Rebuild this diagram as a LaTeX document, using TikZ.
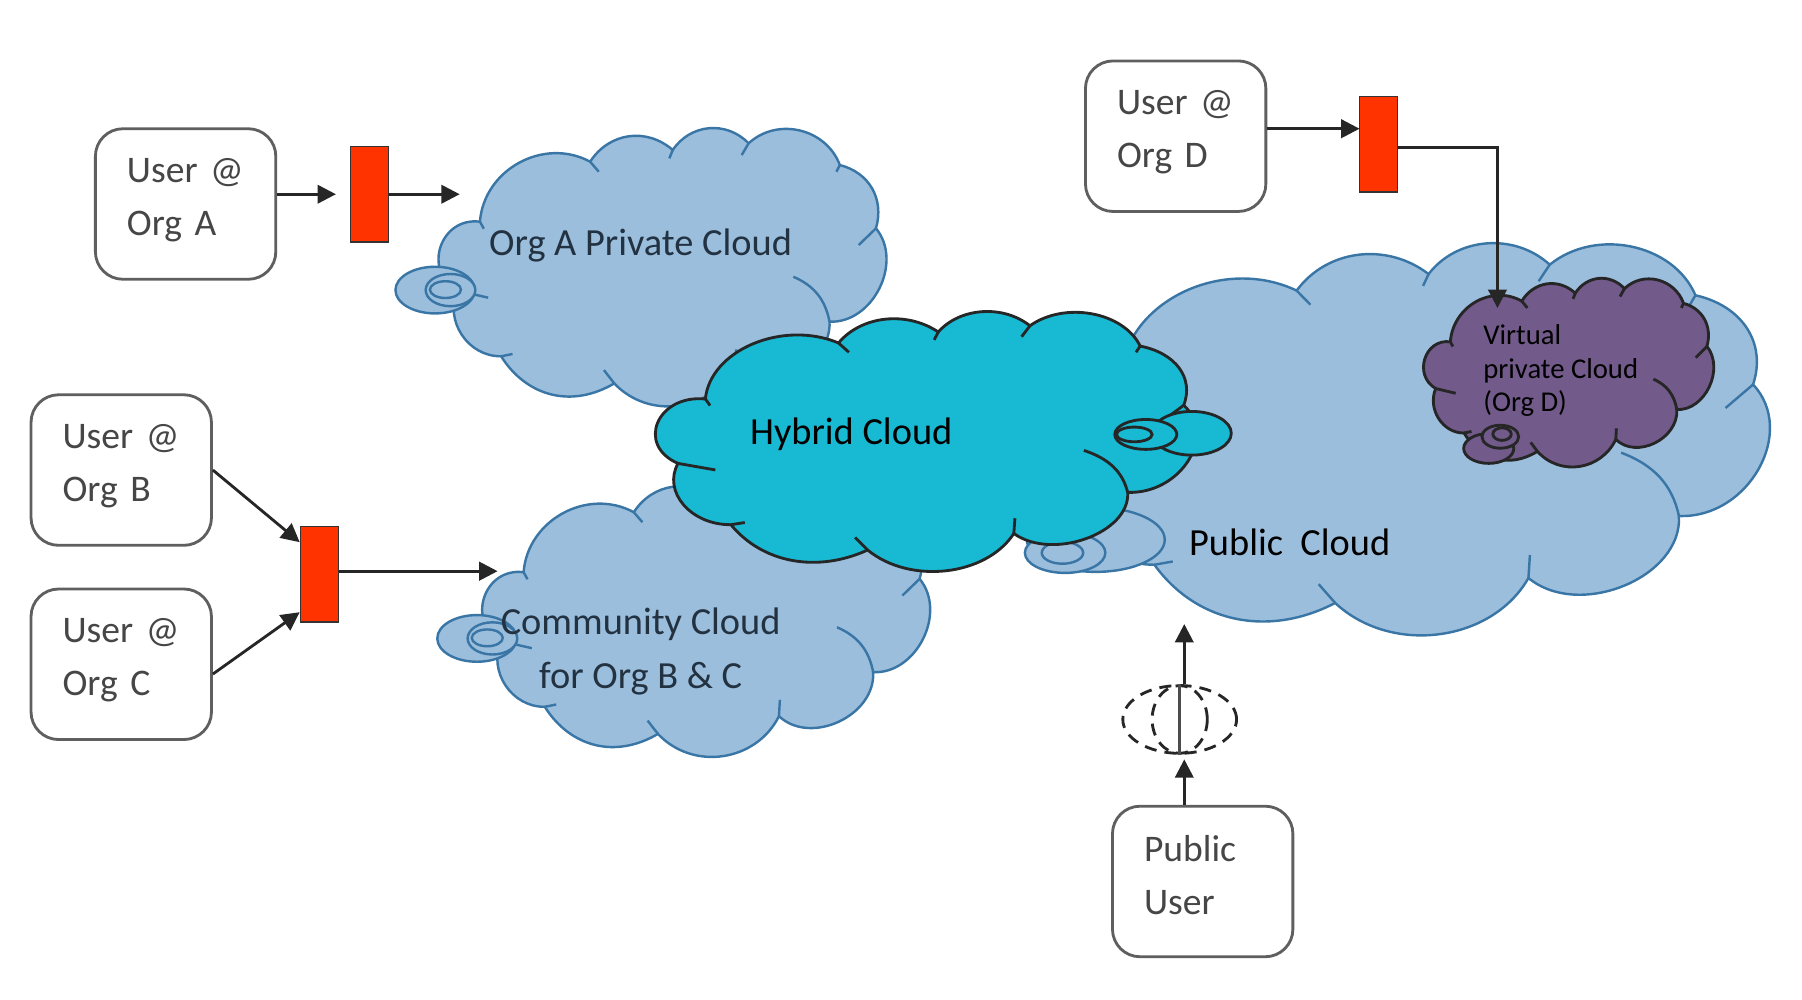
\documentclass[tikz,border=0pt]{standalone}
\usepackage{fontspec}
\setmainfont{Carlito}
\usepackage{tikz}
\usetikzlibrary{shapes.geometric,arrows.meta,positioning,calc}
\definecolor{cloudblue}{RGB}{155,190,221}
\definecolor{cloudline}{RGB}{58,118,165}
\definecolor{hybridcyan}{RGB}{24,185,211}
\definecolor{virtualpurple}{RGB}{114,90,138}
\definecolor{firewallred}{RGB}{255,51,0}
\definecolor{boxline}{RGB}{95,95,95}
\definecolor{boxtext}{RGB}{70,70,70}
\definecolor{cloudtext}{RGB}{35,50,65}
\newcommand{\twolines}[2]{#1\\#2\rule[-1.2mm]{0pt}{1mm}}
\tikzset{
    userbox/.style={rectangle, rounded corners=2.4mm, draw=boxline, line width=0.7pt, fill=white, minimum width=15.7mm, minimum height=13.1mm, inner xsep=0pt, text width=10.2mm, align=left, text=boxtext, font=\fontsize{9.3}{13.1}\selectfont},
    redbar/.style={rectangle, draw=black!80, fill=firewallred, minimum width=3.3mm, minimum height=8.3mm, inner sep=0pt},
    flow/.style={draw=black!85, line width=0.7pt, -{Triangle[length=1.6mm,width=1.6mm]}},
    blueC/.style={draw=cloudline, fill=cloudblue, line width=0.6pt},
    hybridC/.style={draw=black!85, fill=hybridcyan, line width=0.7pt},
    virtualC/.style={draw=black!85, fill=virtualpurple, line width=0.7pt},
    cloudlabel/.style={inner sep=0pt, text=cloudtext, font=\fontsize{9.5}{13.1}\selectfont},
    globeline/.style={draw=black!85, line width=0.7pt, densely dashed},
    cloudbody/.pic={
        \draw[pic actions] (417.6,192.9)
            foreach \x/\y/\b in {513.5/140.7/57, 585.4/130.5/49, 651.4/124.7/51, 730.8/143.6/56, 762.2/198.7/46, 721.8/279.9/66, 639.8/318.2/68, 534.5/333.6/55, 436/310/44, 397.9/252.9/57} {
                to[bend left=\b, looseness=1.07] (\x,\y)
            }
            to[bend left=79, looseness=1.42] (417.6,192.9) -- cycle;
        \foreach \xa/\ya/\xb/\yb in {513.5/140.7/521/149.4, 585.4/130.5/582.4/137.8, 651.4/124.7/645.4/134.9, 730.8/143.6/727.8/149.4, 762.2/198.7/747.2/213.2, 639.8/318.2/640.6/304, 534.5/333.6/525.5/322, 436/310/446/308, 397.9/252.9/424.8/259, 417.6/192.9/421/199} {
            \draw[pic actions, fill=none] (\xa,\ya) -- (\xb,\yb);
        }
        \draw[pic actions, fill=none] (690.3,240.8) to[bend left=28] (721.8,279.9);
    },
}
\begin{document}
\begin{tikzpicture}[x=0.1mm, y=-0.1mm]
    \useasboundingbox (0,0) rectangle (1568,870);

    % Org A cloud
    \pic (cloudA) [blueC] at (0,0) {cloudbody};
    \foreach \cx/\cy/\rx/\ry in {378.6/252.4/34.5/20.3, 392/252.4/21.6/14, 387.6/252/13.5/7.3} {
        \draw[blueC] (\cx,\cy) ellipse ({\rx*0.1mm} and {\ry*0.1mm});
    }

    % Community cloud
    \pic (cloudBC) [blueC] at (38,305) {cloudbody};
    \foreach \cx/\cy/\rx/\ry in {415/555.5/34.5/20.3, 428.5/555.5/21.6/14, 424/555/13.5/7.3} {
        \draw[blueC] (\cx,\cy) ellipse ({\rx*0.1mm} and {\ry*0.1mm});
    }

    % Public cloud
    \pic (cloudPub) [blueC, xscale=1.597, yscale=1.409] at (308.2,54.6) {cloudbody};
    \foreach \cx/\cy/\rx/\ry in {953.5/469.6/60/28, 926.8/481/35/17.5, 924.5/481/18/9.5} {
        \draw[blueC] (\cx,\cy) ellipse ({\rx*0.1mm} and {\ry*0.1mm});
    }

    % Virtual private cloud
    \pic (cloudV) [virtualC, xscale=0.648, yscale=0.678] at (991.4,166.6) {cloudbody};
    \foreach \cx/\cy/\rx/\ry in {1295.4/390.2/21.8/13, 1305.5/380/16/10, 1307/377.7/8/5.5} {
        \draw[virtualC] (\cx,\cy) ellipse ({\rx*0.1mm} and {\ry*0.1mm});
    }

    % Hybrid cloud
    \pic (cloudH) [hybridC, xscale=1.208, yscale=0.934] at (109.3,167) {cloudbody};
    \foreach \cx/\cy/\rx/\ry in {1037/377/34.4/19, 997/378/27/13, 987/378/15.5/6.4} {
        \draw[hybridC] (\cx,\cy) ellipse ({\rx*0.1mm} and {\ry*0.1mm});
    }

    % Cloud labels
    \node[cloudlabel, anchor=west] (labelA) at (425,214) {Org A Private Cloud};
    \node[cloudlabel, align=center] (labelBC) at (557.5,567) {Community Cloud\\[0.2pt]for Org B \& C};
    \node[cloudlabel, anchor=west, text=black] (labelH) at (652,377.5) {Hybrid Cloud};
    \node[cloudlabel, anchor=west, text=black] (labelPub) at (1034,472) {Public\ \ Cloud};
    \node[cloudlabel, anchor=north west, align=left, text=black, font=\fontsize{7.1}{8.25}\selectfont] (labelV) at (1290,282) {Virtual\\private Cloud\\(Org D)};

    % Users and gateways
    \node[userbox] (userA) at (161.5,177.5) {\twolines{User @}{Org A}};
    \node[userbox] (userD) at (1023,118.5) {\twolines{User @}{Org D}};
    \node[userbox] (userB) at (105.5,409) {\twolines{User @}{Org B}};
    \node[userbox] (userC) at (105.5,578) {\twolines{User @}{Org C}};
    \node[userbox] (userPub) at (1046.5,767) {\twolines{Public}{User}};
    \node[redbar] (redA) at (321.5,169) {};
    \node[redbar] (redD) at (1199.5,125.5) {};
    \node[redbar] (redBC) at (278,499.5) {};

    % Globe
    \node[ellipse, globeline, minimum width=9.9mm, minimum height=5.9mm, inner sep=0pt] (globe) at (1026.5,626) {};
    \node[ellipse, globeline, minimum width=4.8mm, minimum height=5.9mm, inner sep=0pt] (globeIn) at (1026.5,626) {};
    \draw[draw=black!70, line width=0.7pt] (globe.north) -- (globe.south);

    % Connectors
    \coordinate (inA) at (400,169);
    \coordinate (inD) at (1183,112);
    \coordinate (inV) at (1303,268);
    \coordinate (inBC) at (433,497);
    \coordinate (inPub) at (1030.5,543);
    \draw[flow, shorten >=1.2mm] (userA.east |- redA) -- (redA.west);
    \draw[flow] (redA.east) -- (inA);
    \draw[flow] (userD.east |- inD) -- (inD);
    \draw[flow] ([yshift=-0.25mm]redD.east) -| (inV);
    \draw[flow] (userB.east) -- ([yshift=-1.45mm]redBC.north west);
    \draw[flow] ([yshift=-0.85mm]userC.east) -- ([yshift=0.9mm]redBC.south west);
    \draw[flow] (redBC.east |- inBC) -- (inBC);
    \draw[flow, shorten >=0.4mm] (inPub |- userPub.north) -- (inPub |- globe.south);
    \draw[flow] (inPub |- globe.north) -- (inPub);
\end{tikzpicture}
\end{document}
